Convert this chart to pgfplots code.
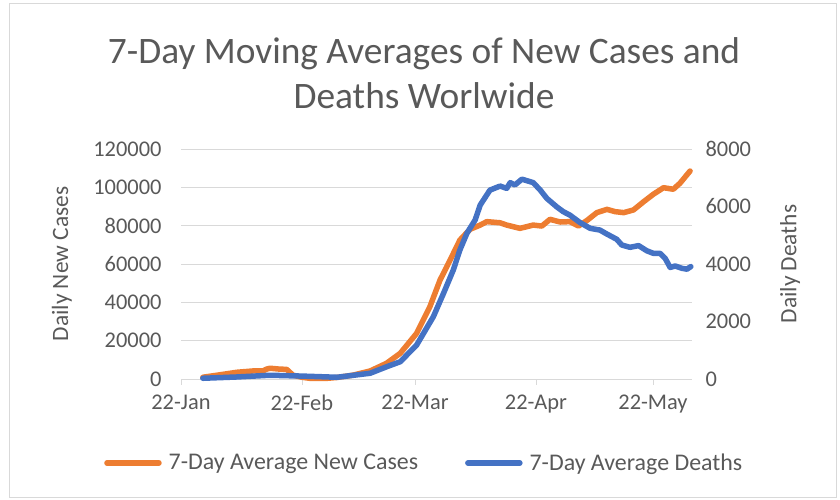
\documentclass[border=0pt]{standalone}
\usepackage{fontspec}
\setmainfont{Carlito}
\usepackage{pgfplots}
\pgfplotsset{compat=1.18}
\definecolor{cases}{HTML}{ED7D31}
\definecolor{deaths}{HTML}{4472C4}
\definecolor{gridc}{HTML}{D9D9D9}
\definecolor{txt}{HTML}{595959}
\pgfplotsset{
  common/.style={
    at={(181bp,121bp)}, anchor=south west, scale only axis,
    width=511bp, height=230bp, xmin=0, xmax=131,
    scaled y ticks=false,
    /pgf/number format/assume math mode=true,
    tick label style={font=\fontsize{22.5}{26}\selectfont, text=txt},
    clip=false,
  },
  serie/.style={line width=5.5bp, line cap=round, line join=round, #1},
}
\begin{document}
\begin{tikzpicture}[x=1bp,y=1bp]
\path[use as bounding box] (0,0) rectangle (840,500);
\draw[gridc, line width=0.75bp] (9,3) rectangle (836,497);
\node[text=txt, align=center, font=\fontsize{37.5}{45}\selectfont] at (424,427) {7-Day Moving Averages of New Cases and\\Deaths Worlwide};

\begin{axis}[common,
  ymin=0, ymax=120000,
  axis x line*=bottom, axis y line*=left,
  y axis line style={draw=none},
  x axis line style={draw=gridc, line width=0.75bp},
  ymajorgrids, grid style={gridc, line width=0.75bp},
  xtick={0,31,60,91,121}, xticklabels={22-Jan,22-Feb,22-Mar,22-Apr,22-May},
  ytick={0,20000,40000,60000,80000,100000,120000},
  yticklabels={0,20000,40000,60000,80000,100000,120000},
  ytick style={draw=none},
  xtick style={draw=gridc, line width=0.75bp},
  tick align=outside, major tick length=6bp,
  yticklabel style={anchor=east, xshift=-10bp},
  xticklabel style={anchor=north, yshift=-6bp},
  ylabel={Daily New Cases},
  every axis y label/.style={at={(axis description cs:-0.233,0.5)}, rotate=90, anchor=center,
    font=\fontsize{23.5}{27}\selectfont, text=txt},
]
\addplot[serie=cases] coordinates {
(5.6,900) (10,2200) (14.3,3500) (18.5,4200) (21.0,4200) (22.0,5200) (22.8,5600) (25,5200) (27.1,5000)
(28.7,2000) (31,900) (33.1,350) (37.4,350) (40,800) (44.1,2000) (48.5,4200) (52.7,8200)
(56.2,13400) (60.4,23800) (63.8,37700) (66.4,51600) (69.0,62100) (71.5,72500) (74.1,78100)
(76.7,80300) (78.4,82100) (81.8,81500) (83.5,80300) (86.9,78600) (90.3,80300) (92.5,79800)
(94.6,83300) (97.2,81900) (99.7,82100) (101.9,79800) (104.0,82600) (106.6,86800) (109.2,88500)
(111.3,87300) (113.5,86800) (116.0,88200) (118.6,92500) (121.1,96400) (123.7,99800)
(126.2,99000) (127.9,102100) (130.5,108500)
};
\end{axis}

\begin{axis}[common,
  ymin=0, ymax=8000,
  axis x line=none, axis y line*=right,
  y axis line style={draw=none},
  ytick={0,2000,4000,6000,8000},
  yticklabels={0,2000,4000,6000,8000},
  ytick style={draw=none},
  yticklabel style={anchor=west, xshift=10bp},
  ylabel={Daily Deaths},
  every axis y label/.style={at={(axis description cs:1.192,0.5)}, rotate=90, anchor=center,
    font=\fontsize{23.5}{27}\selectfont, text=txt},
  legend style={at={(axis description cs:0.476,-0.365)}, anchor=center, draw=none, fill=none,
    font=\fontsize{24}{28}\selectfont, text=txt, legend columns=2,
    /tikz/every odd column/.append style={column sep=5bp},
    /tikz/every even column/.append style={column sep=45bp}},
  legend image code/.code={\draw[#1, line width=5.5bp, line cap=round] (0bp,0bp) -- (52bp,0bp);},
]
\addlegendimage{cases}
\addlegendentry{7-Day Average New Cases}
\addplot[serie=deaths] coordinates {
(5.6,25) (14.3,70) (22.8,130) (31.3,100) (40,60) (48.5,200) (52.8,430) (56.2,600) (60.4,1180)
(64.7,2170) (67.3,2980) (69.8,3790) (71.5,4490) (73.3,5070) (75.4,5530) (76.7,6050) (79.2,6570)
(81.8,6710) (83.5,6630) (84.4,6830) (85.6,6750) (87.4,6950) (90.3,6830) (92.1,6570) (93.8,6280)
(96.3,5990) (98.0,5820) (99.7,5700) (102.3,5440) (104.9,5240) (107.4,5180) (109.2,5040)
(111.7,4860) (113.0,4660) (115.1,4580) (117.3,4640) (119.4,4460) (121.1,4370) (122.8,4370)
(124.1,4200) (125.4,3880) (126.7,3930) (128.4,3850) (129.7,3820) (130.7,3910)
};
\addlegendentry{7-Day Average Deaths}
\end{axis}
\end{tikzpicture}
\end{document}
